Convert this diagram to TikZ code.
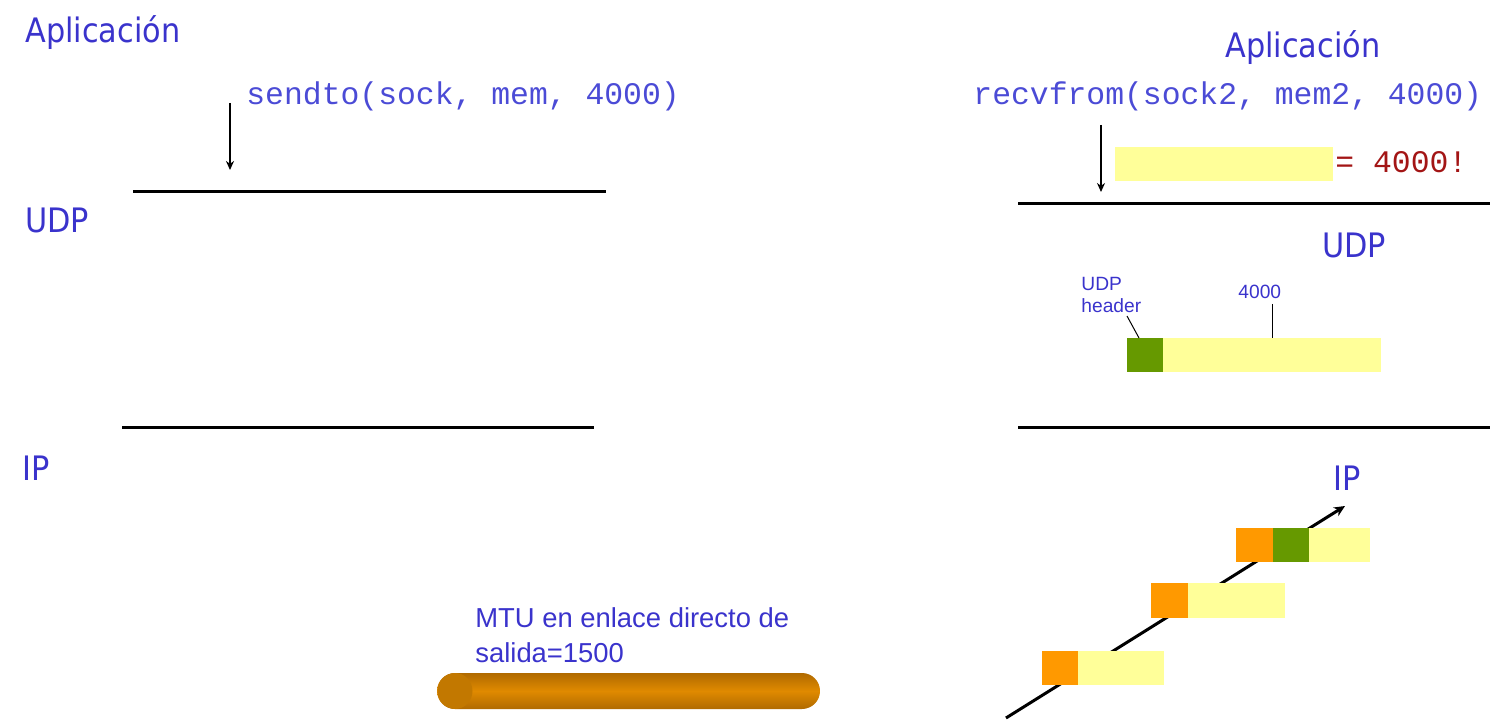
\documentclass[tikz,border=0pt]{standalone}
\usepackage{fontspec}
\setmainfont{Liberation Sans}
\newfontfamily\labfont{DejaVu Sans Condensed}
\newfontfamily\codefont{Liberation Mono}
\usetikzlibrary{arrows.meta}
\definecolor{lblue}{HTML}{3A33CC}
\definecolor{cblue}{HTML}{4B4BD6}
\definecolor{dred}{HTML}{A31515}
\definecolor{pyellow}{HTML}{FFFF99}
\definecolor{pgreen}{HTML}{669900}
\definecolor{porange}{HTML}{FF9900}
\definecolor{tubemid}{HTML}{E08A00}
\definecolor{tubeedge}{HTML}{B06A00}
\definecolor{tubecap}{HTML}{C27800}
\begin{document}
\begin{tikzpicture}[x=0.5pt,y=-0.5pt,
  layer/.style={font=\labfont\fontsize{16.85}{20}\selectfont, text=lblue, inner sep=0pt, anchor=base west},
  code/.style={font=\codefont\fontsize{15.7}{18}\selectfont, text=cblue, inner sep=0pt, anchor=base west},
  small/.style={font=\fontsize{9.6}{11}\selectfont, text=lblue, inner sep=0pt, anchor=base west, align=left},
  mtu/.style={font=\fontsize{13.7}{17.5}\selectfont, text=lblue, inner sep=0pt, anchor=base west, align=left},
  sepline/.style={line width=1.5pt},
  callarrow/.style={line width=1pt, -{Stealth[length=4.5pt,width=4pt]}},
  iparrow/.style={line width=1.5pt, -{Stealth[length=5.5pt,width=5pt]}},
  leader/.style={line width=0.5pt},
]
\useasboundingbox (0,0) rectangle (1505,727);

% ---- left side ----
\node[layer] (appL) at (25,43) {Aplicación};
\node[layer] (udpL) at (25,233) {UDP};
\node[layer] (ipL) at (22,480) {IP};
\node[code] (sendto) at (246,105) {sendto(sock, mem, 4000)};
\coordinate (sA) at (230,103);
\coordinate (sB) at (230,170);
\draw[callarrow] (sA) -- (sB);
\coordinate (l1a) at (133,192); \coordinate (l1b) at (606,192);
\draw[sepline] (l1a) -- (l1b);
\coordinate (l2a) at (122,427); \coordinate (l2b) at (594,427);
\draw[sepline] (l2a) -- (l2b);

% MTU tube
\node[mtu] (mtutxt) at (475,662) {MTU en enlace directo de\\salida=1500};
\shade[top color=tubeedge, bottom color=tubeedge, middle color=tubemid, rounded corners=9pt]
  (437,673) rectangle (820,709);
\fill[tubecap] (455,691) ellipse [x radius=17.5, y radius=18];

% ---- right side ----
\node[layer] (appR) at (1225,58) {Aplicación};
\node[layer] (udpR) at (1322,258) {UDP};
\node[layer] (ipR) at (1333,490) {IP};
\node[code] (recv) at (973,105) {recvfrom(sock2, mem2, 4000)};
\fill[pyellow] (1115,147) rectangle (1333,181);
\node[code, text=dred] (eq) at (1335,173) {= 4000!};
\coordinate (rA) at (1101,125);
\coordinate (rB) at (1101,192);
\draw[callarrow] (rA) -- (rB);
\coordinate (r1a) at (1018,204); \coordinate (r1b) at (1490,204);
\draw[sepline] (r1a) -- (r1b);
\coordinate (r2a) at (1018,427); \coordinate (r2b) at (1490,427);
\draw[sepline] (r2a) -- (r2b);

% UDP datagram
\node[small] (hdr) at (1081,313) {UDP\\header};
\node[small] (len) at (1238,299) {4000};
\fill[pgreen] (1127,338) rectangle (1163,372);
\fill[pyellow] (1163,338) rectangle (1381,372);
\coordinate (hA) at (1127,316); \coordinate (hB) at (1139,338);
\draw[leader] (hA) -- (hB);
\coordinate (dA) at (1272,304); \coordinate (dB) at (1272,338);
\draw[leader] (dA) -- (dB);

% IP fragments
\coordinate (ipA) at (1006,718);
\coordinate (ipB) at (1345,506);
\draw[iparrow] (ipA) -- (ipB);
\fill[porange] (1236,528) rectangle (1273,562);
\fill[pgreen] (1273,528) rectangle (1309,562);
\fill[pyellow] (1309,528) rectangle (1370,562);
\fill[porange] (1151,583) rectangle (1188,618);
\fill[pyellow] (1188,583) rectangle (1285,618);
\fill[porange] (1042,651) rectangle (1078,685);
\fill[pyellow] (1078,651) rectangle (1164,685);
\end{tikzpicture}
\end{document}
